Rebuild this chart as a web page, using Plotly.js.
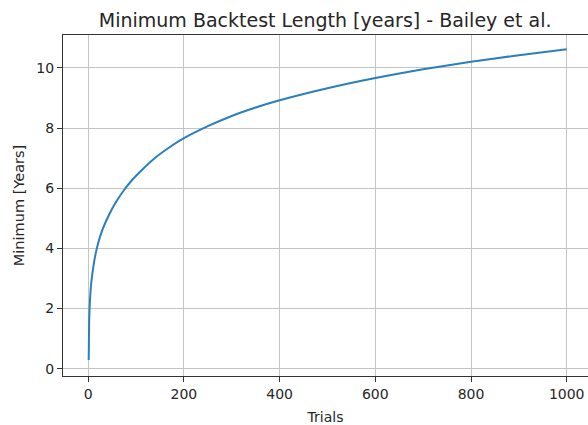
<!DOCTYPE html>
<html>
<head>
<meta charset="utf-8">
<script src="https://cdn.plot.ly/plotly-3.0.1.min.js"></script>
<style>html,body{margin:0;padding:0;background:#fff;}#chart{width:588px;height:425px;}</style>
</head>
<body>
<div id="chart"></div>
<script>
// Values
const trials = [1, 2, 3, 4, 6, 8, 11, 14, 18, 23, 30, 40, 50, 62, 75, 90, 110, 140, 170, 200, 250, 300, 350, 400, 500, 600, 700, 800, 900, 1000];
const minYears = [0.29, 1.6, 2.05, 2.36, 2.8, 3.08, 3.42, 3.7, 4.0, 4.3, 4.63, 5.0, 5.32, 5.64, 5.94, 6.24, 6.57, 7.01, 7.36, 7.66, 8.06, 8.40, 8.68, 8.92, 9.32, 9.66, 9.95, 10.2, 10.42, 10.62];
const xTicks = [0, 200, 400, 600, 800, 1000];
const yTicks = [0, 2, 4, 6, 8, 10];

const font = 'DejaVu Sans, sans-serif';
const trace = {
  x: trials, y: minYears, type: 'scatter', mode: 'lines',
  line: {color: '#2a7fbc', width: 2, shape: 'spline', smoothing: 0.6},
  hoverinfo: 'skip'
};
const layout = {
  width: 588, height: 425,
  margin: {l: 63, r: 0, t: 35, b: 49},
  paper_bgcolor: '#fff', plot_bgcolor: '#fff',
  showlegend: false,
  title: {text: 'Minimum Backtest Length [years] - Bailey et al.', font: {family: font, size: 19, color: '#262626'}, x: 0.553, xanchor: 'center', y: 0.953, yanchor: 'middle'},
  xaxis: {
    range: [-52.7, 1044.5], tickvals: xTicks, ticktext: xTicks.map(String),
    showgrid: true, gridcolor: '#c4c4c4', gridwidth: 1,
    zeroline: false, showline: true, linecolor: '#333', linewidth: 1, mirror: true,
    ticks: 'outside', ticklen: 5, tickcolor: '#333',
    tickfont: {family: font, size: 14, color: '#262626'},
    title: {text: 'Trials', font: {family: font, size: 14, color: '#262626'}, standoff: 11}
  },
  yaxis: {
    range: [-0.24, 11.09], tickvals: yTicks, ticktext: yTicks.map(String),
    showgrid: true, gridcolor: '#c4c4c4', gridwidth: 1,
    zeroline: false, showline: true, linecolor: '#333', linewidth: 1, mirror: false,
    ticks: 'outside', ticklen: 5, tickcolor: '#333',
    tickfont: {family: font, size: 14, color: '#262626'},
    title: {text: 'Minimum [Years]', font: {family: font, size: 14.5, color: '#262626'}, standoff: 8}
  }
};
Plotly.newPlot('chart', [trace], layout, {staticPlot: true, displayModeBar: false});
</script>
</body>
</html>
